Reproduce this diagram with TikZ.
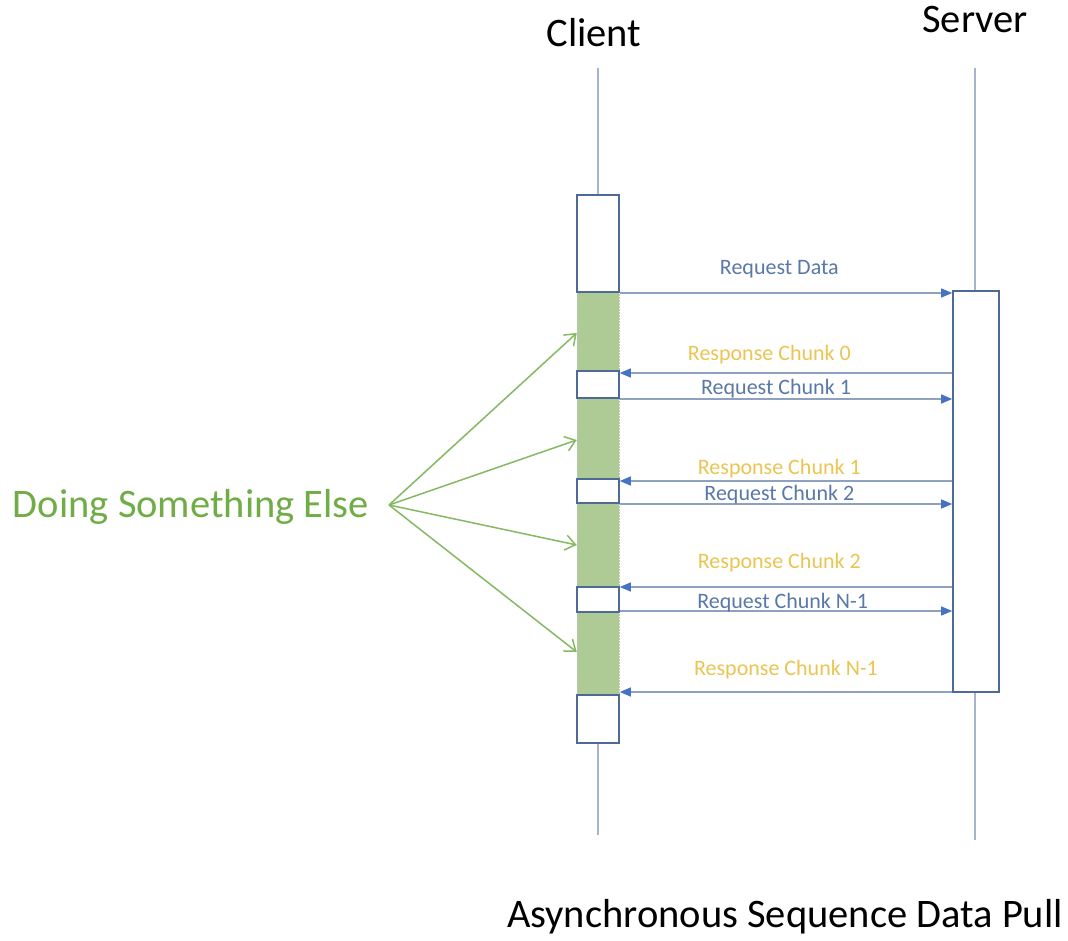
\documentclass[tikz,border=0pt]{standalone}
\usepackage{fontspec}
\setmainfont{Carlito}
\usetikzlibrary{arrows.meta,calc}
\definecolor{lifec}{HTML}{A7B5CC}
\definecolor{boxc}{HTML}{4E6A96}
\definecolor{msgline}{HTML}{8FA1C0}
\definecolor{headc}{HTML}{4472C4}
\definecolor{reqc}{HTML}{5A78A8}
\definecolor{resc}{HTML}{EBC552}
\definecolor{greenc}{HTML}{70AD47}
\definecolor{greenfill}{HTML}{AECB96}
\tikzset{
  lifeline/.style={draw=lifec, line width=1.2pt},
  actbox/.style={draw=boxc, fill=white, line width=1.6pt, inner sep=0pt, minimum width=42pt},
  busy/.style={fill=greenfill, draw=greenfill!80!black!60, densely dotted, line width=0.5pt, inner sep=0pt, minimum width=42pt},
  srvbox/.style={draw=boxc, fill=white, line width=1.6pt, inner sep=0pt, minimum width=46pt, minimum height=401pt},
  msg/.style={draw=msgline, line width=1.3pt, -{Triangle[length=11pt,width=9pt,color=headc]}},
  reqlab/.style={text=reqc, font=\fontsize{22}{24}\selectfont, inner sep=0pt},
  reslab/.style={text=resc, font=\fontsize{22}{24}\selectfont, inner sep=0pt},
  head/.style={font=\fontsize{40.5}{44}\selectfont, text=black},
  gar/.style={draw=greenc!85!white, line width=1.5pt, -{Straight Barb[length=10pt,width=15pt]}},
}
\begin{document}
\begin{tikzpicture}[x=1pt,y=-1pt]
\useasboundingbox (0,0) rectangle (1068,941);
\fill[white] (0,0) rectangle (1068,941);
% headers
\node[head] (client) at (594,33) {Client};
\node[head] (server) at (975,20) {Server};
% lifelines
\coordinate (ct) at (598,68);
\coordinate (cb) at (598,835);
\coordinate (st) at (975,68);
\coordinate (sb) at (975,840);
\draw[lifeline] (ct) -- (cb);
\draw[lifeline] (st) -- (sb);
% client green busy bars
\node[busy, minimum height=79pt] (g1) at (598,331.5) {};
\node[busy, minimum height=81pt] (g2) at (598,438.5) {};
\node[busy, minimum height=84pt] (g3) at (598,545) {};
\node[busy, minimum height=83pt] (g4) at (598,653.5) {};
% client activation boxes
\node[actbox, minimum height=97pt] (a1) at (598,243.5) {};
\node[actbox, minimum height=27pt] (a2) at (598,384.5) {};
\node[actbox, minimum height=24pt] (a3) at (598,491) {};
\node[actbox, minimum height=25pt] (a4) at (598,599.5) {};
\node[actbox, minimum height=48pt] (a5) at (598,719) {};
% server box
\node[srvbox] (srv) at (976,491.5) {};
% messages
\draw[msg] (a1.east |- 0,293) -- (srv.west |- 0,293)
  node[reqlab, pos=0.48, yshift=24pt] (m1) {Request Data};
\draw[msg] (srv.west |- 0,373) -- (a2.east |- 0,373)
  node[reslab, pos=0.55, yshift=18pt] (m2) {Response Chunk 0};
\draw[msg] (a2.east |- 0,399) -- (srv.west |- 0,399)
  node[reqlab, pos=0.47, yshift=10pt] (m3) {Request Chunk 1};
\draw[msg] (srv.west |- 0,481) -- (a3.east |- 0,481)
  node[reslab, pos=0.52, yshift=12pt] (m4) {Response Chunk 1};
\draw[msg] (a3.east |- 0,504) -- (srv.west |- 0,504)
  node[reqlab, pos=0.48, yshift=9pt] (m5) {Request Chunk 2};
\draw[msg] (srv.west |- 0,587) -- (a4.east |- 0,587)
  node[reslab, pos=0.52, yshift=24pt] (m6) {Response Chunk 2};
\draw[msg] (a4.east |- 0,611) -- (srv.west |- 0,611)
  node[reqlab, pos=0.49, yshift=8pt] (m7) {Request Chunk N-1};
\draw[msg] (srv.west |- 0,692) -- (a5.east |- 0,692)
  node[reslab, pos=0.50, yshift=22pt] (m8) {Response Chunk N-1};
% doing something else
\node[text=greenc, font=\fontsize{40.5}{44}\selectfont] (dse) at (191,507) {Doing Something Else};
\coordinate (hub) at (389,505);
\draw[gar] (hub) -- (g1.west |- 0,333);
\draw[gar] (hub) -- (g2.west |- 0,440);
\draw[gar] (hub) -- (g3.west |- 0,545);
\draw[gar] (hub) -- (g4.west |- 0,652);
% title
\node[head] (title) at (785,917) {Asynchronous Sequence Data Pull};
\end{tikzpicture}
\end{document}
